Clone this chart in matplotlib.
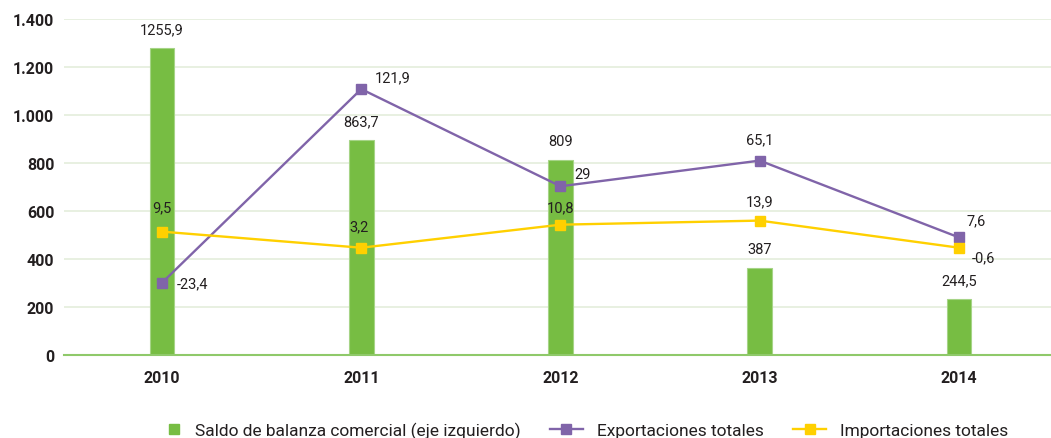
import matplotlib
matplotlib.use("Agg")
import matplotlib.pyplot as plt
from matplotlib.lines import Line2D
from matplotlib.legend_handler import HandlerLine2D

plt.rcParams['font.family'] = ['Roboto', 'DejaVu Sans']

# --- Data ---
years = ['2010', '2011', '2012', '2013', '2014']
saldo_heights = [1278, 896, 812, 361, 233]          # drawn bar heights (left axis)
saldo_labels = ['1255,9', '863,7', '809', '387', '244,5']
export_pos = [301, 1108, 703, 810, 490]             # drawn marker positions (left axis scale)
export_labels = ['-23,4', '121,9', '29', '65,1', '7,6']
import_pos = [514, 447, 543, 560, 447]
import_labels = ['9,5', '3,2', '10,8', '13,9', '-0,6']
yticks = [0, 200, 400, 600, 800, 1000, 1200, 1400]
ytick_labels = ['0', '200', '400', '600', '800', '1.000', '1.200', '1.400']

# label offsets in pixels (dx, dy)
export_off = [(30, -1), (31, 12), (22, 12), (0, 21), (17, 17)]
import_off = [(0, 24), (-2, 21), (0, 17), (0, 19), (24, -10)]

green = '#77bd43'
purple = '#8064a9'
yellow = '#ffd000'
grid_col = '#e4eedc'
txt = '#231f20'


class RightMarkerHandler(HandlerLine2D):
    # puts the square marker at the right end of the handle box
    def create_artists(self, legend, orig_handle, xdescent, ydescent,
                       width, height, fontsize, trans):
        m = Line2D([xdescent + width - 5], [height / 2 - ydescent],
                   marker='s', ms=orig_handle.get_markersize(),
                   color=orig_handle.get_color(), ls='none', transform=trans)
        return [m]


fig = plt.figure(figsize=(10.51, 4.39), dpi=100)
ax = fig.add_axes([64 / 1051, 83 / 439, 987 / 1051, 336 / 439])

x = list(range(len(years)))
ax.bar(x, saldo_heights, width=0.125, color=green, edgecolor='#a6d487',
       linewidth=0.8, zorder=2)
ax.plot(x, export_pos, color=purple, lw=1.7, marker='s', ms=6.5, zorder=3)
ax.plot(x, import_pos, color=yellow, lw=1.7, marker='s', ms=6.5, zorder=3)

for i in x:
    ax.annotate(saldo_labels[i], (i, saldo_heights[i]), xytext=(0, 19),
                textcoords='offset pixels', ha='center', va='center',
                fontsize=10.5, color=txt)
    ax.annotate(export_labels[i], (i, export_pos[i]), xytext=export_off[i],
                textcoords='offset pixels', ha='center', va='center',
                fontsize=10.5, color=txt)
    ax.annotate(import_labels[i], (i, import_pos[i]), xytext=import_off[i],
                textcoords='offset pixels', ha='center', va='center',
                fontsize=10.5, color=txt)

ax.set_xlim(-0.492, 4.462)
ax.set_ylim(0, 1400)
ax.set_yticks(yticks)
ax.set_yticklabels(ytick_labels, fontsize=11.5, fontweight='bold', color=txt)
ax.set_xticks(x)
ax.set_xticklabels(years, fontsize=11.5, fontweight='bold', color=txt)
ax.tick_params(axis='both', length=0)
ax.tick_params(axis='y', pad=7)
ax.tick_params(axis='x', pad=11)
ax.grid(axis='y', color=grid_col, lw=1.2, zorder=0)
ax.set_axisbelow(True)
for s in ['top', 'right', 'left']:
    ax.spines[s].set_visible(False)
ax.spines['bottom'].set_color('#8fc96a')
ax.spines['bottom'].set_linewidth(1.5)

green_handle = Line2D([], [], color=green, marker='s', ms=7, ls='none')
handles = [
    green_handle,
    Line2D([], [], color=purple, marker='s', ms=6.5, lw=1.7),
    Line2D([], [], color=yellow, marker='s', ms=6.5, lw=1.7),
]
labels = ['Saldo de balanza comercial (eje izquierdo)', 'Exportaciones totales',
          'Importaciones totales']
fig.legend(handles, labels, loc='center', bbox_to_anchor=(578 / 1051, 1 - 431 / 439),
           ncol=3, frameon=False, fontsize=12.5, handlelength=1.9,
           handletextpad=0.8, columnspacing=1.7, labelcolor=txt,
           handler_map={green_handle: RightMarkerHandler()})

fig.savefig('out.png', dpi=100)
